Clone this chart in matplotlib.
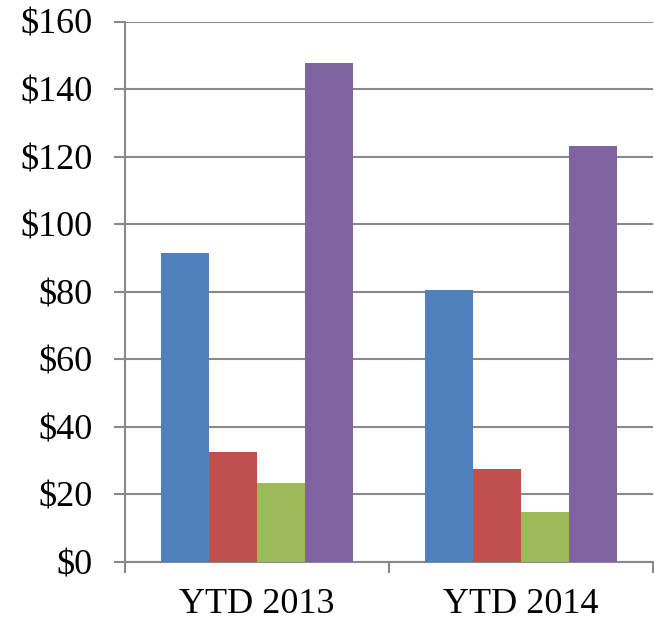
import numpy as np
import matplotlib
matplotlib.use("Agg")
import matplotlib.pyplot as plt
from matplotlib.ticker import FuncFormatter, FixedLocator

# === Data ===
categories = ["YTD 2013", "YTD 2014"]
series_names = ["Series 1", "Series 2", "Series 3", "Series 4"]
blue_vals = [91.4, 80.4]
red_vals = [32.5, 27.6]
green_vals = [23.5, 14.9]
purple_vals = [147.6, 123.0]
y_ticks = [0, 20, 40, 60, 80, 100, 120, 140, 160]

colors = ["#4F81BD", "#C0504D", "#9BBB59", "#8064A2"]
grey = "#898989"

plt.rcParams["font.family"] = ["Liberation Serif", "DejaVu Serif"]

fig = plt.figure(figsize=(6.54, 6.23), dpi=100)
ax = fig.add_axes([124.5 / 654, (623 - 562) / 623, (653 - 124.5) / 654, (562 - 21.5) / 623])

x = np.arange(len(categories))
width = 48 / 264.3
all_vals = [blue_vals, red_vals, green_vals, purple_vals]
for i, (vals, name) in enumerate(zip(all_vals, series_names)):
    ax.bar(x + (i - 1.5) * width, vals, width, color=colors[i], label=name,
           linewidth=0, zorder=3)

ax.set_xlim(-0.5, len(categories) - 0.5)
ax.set_ylim(0, 160)
ax.set_yticks(y_ticks)
ax.yaxis.set_major_formatter(FuncFormatter(lambda v, p: f"${v:.0f}"))

ax.set_xticks(x)
ax.set_xticklabels(categories)
ax.xaxis.set_minor_locator(FixedLocator(np.arange(-0.5, len(categories), 1.0)))
ax.tick_params(axis="x", which="major", length=0, pad=19, labelsize=26)
ax.tick_params(axis="x", which="minor", length=8, width=1.5, color=grey, direction="out")
ax.tick_params(axis="y", length=8, width=1.5, color=grey, pad=15, labelsize=26)

ax.grid(axis="y", color=grey, linewidth=1.5, zorder=0)
ax.set_axisbelow(True)
for side in ["top", "right"]:
    ax.spines[side].set_visible(False)
for side in ["left", "bottom"]:
    ax.spines[side].set_color(grey)
    ax.spines[side].set_linewidth(1.5)

fig.savefig("out.png", dpi=100)
